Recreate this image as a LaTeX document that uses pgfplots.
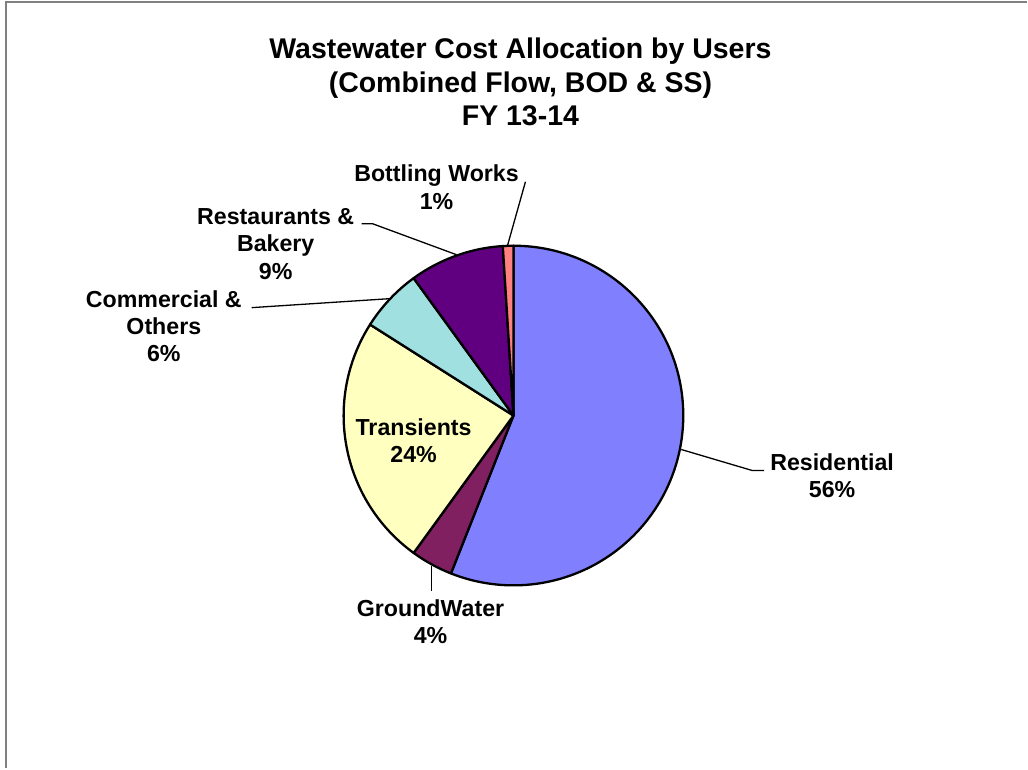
\documentclass[border=0pt]{standalone}
\usepackage{pgfplots}
\pgfplotsset{compat=1.18}
\usepackage{fontspec}
\setmainfont{Liberation Sans}
\definecolor{cRes}{HTML}{8080FF}
\definecolor{cGW}{HTML}{802060}
\definecolor{cTr}{HTML}{FFFFC0}
\definecolor{cCom}{HTML}{A0E0E0}
\definecolor{cRest}{HTML}{600080}
\definecolor{cBot}{HTML}{FF8080}
\newcommand\lab[3]{\node[anchor=base,font=\fontsize{23.2}{26.7}\selectfont\bfseries,inner sep=0pt] at (axis cs:#1,#2) {#3};}
\newcommand\ttl[3]{\node[anchor=base,font=\fontsize{28.5}{33}\selectfont\bfseries,inner sep=0pt] at (axis cs:#1,#2) {#3};}
\begin{document}
\begin{tikzpicture}
\begin{axis}[width=1028pt,height=769pt,scale only axis,xmin=0,xmax=1028,ymin=0,ymax=769,hide axis,clip=false]
\path (axis cs:0,0) rectangle (axis cs:1028,769);
\draw[color={rgb,255:red,128;green,128;blue,128},line width=2.2pt] (axis cs:6,0) -- (axis cs:6,767) -- (axis cs:1028,767);
% pie: values in percent, clockwise from 12 o'clock
\gdef\cum{0}
\foreach \v/\c in {56/cRes,4/cGW,24/cTr,6/cCom,9/cRest,1/cBot}{
  \pgfmathsetmacro\a{90-3.6*\cum}
  \pgfmathsetmacro\b{90-3.6*(\cum+\v)}
  \pgfmathsetmacro\sx{514+170*cos(\a)}
  \pgfmathsetmacro\sy{353+170*sin(\a)}
  \edef\cmd{\noexpand\filldraw[fill=\c,draw=black,line width=2.3pt,line join=round] (axis cs:514,353) -- (axis cs:\sx,\sy) arc[start angle=\a,end angle=\b,radius=170] -- cycle;}
  \cmd
  \pgfmathsetmacro\n{\cum+\v}
  \xdef\cum{\n}
}
% leader lines
\draw[line width=1.3pt] (axis cs:508,523) -- (axis cs:526,587);
\draw[line width=1.3pt] (axis cs:457,514) -- (axis cs:373,545) -- (axis cs:362,545);
\draw[line width=1.3pt] (axis cs:390,470) -- (axis cs:267,462) -- (axis cs:252,461);
\draw[line width=1.3pt] (axis cs:682,319) -- (axis cs:753,298) -- (axis cs:765,298);
\draw[line width=1.3pt] (axis cs:432,202) -- (axis cs:432,177);
% title
\ttl{521}{710}{Wastewater Cost Allocation by Users}
\ttl{521}{676.5}{(Combined Flow, BOD \& SS)}
\ttl{521}{643}{FY 13-14}
% labels
\lab{437}{587}{Bottling Works}
\lab{437}{559}{1\%}
\lab{276}{544}{Restaurants \&}
\lab{276}{517}{Bakery}
\lab{276}{489}{9\%}
\lab{164}{461}{Commercial \&}
\lab{164}{434}{Others}
\lab{164}{407}{6\%}
\lab{414}{333}{Transients}
\lab{414}{306}{24\%}
\lab{431}{152}{GroundWater}
\lab{431}{125}{4\%}
\lab{833}{298}{Residential}
\lab{833}{271}{56\%}
\end{axis}
\end{tikzpicture}
\end{document}
